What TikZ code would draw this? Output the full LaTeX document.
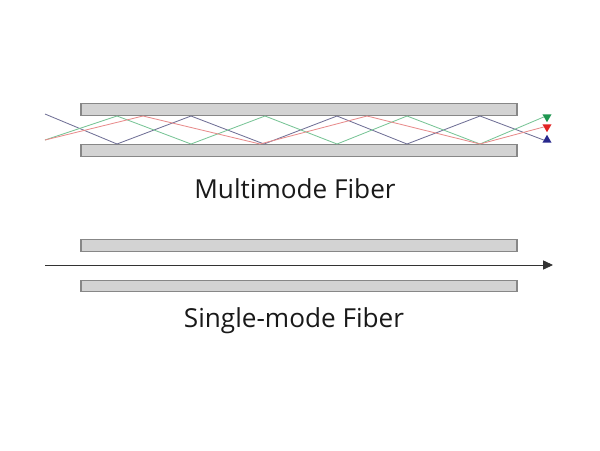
\documentclass[tikz,border=0pt]{standalone}
\usepackage{fontspec}
\setmainfont{Open Sans}
\usetikzlibrary{positioning, arrows.meta, shapes.geometric}
\definecolor{barfill}{RGB}{211,211,211}
\definecolor{bardraw}{RGB}{135,135,135}
\definecolor{rayblue}{RGB}{112,112,150}
\definecolor{raygreen}{RGB}{120,196,150}
\definecolor{rayred}{RGB}{232,140,140}
\definecolor{tipblue}{RGB}{40,40,140}
\definecolor{tipgreen}{RGB}{30,150,80}
\definecolor{tipred}{RGB}{225,35,35}

\begin{document}
\begin{tikzpicture}[x=0.025cm, y=-0.025cm,
    cladding/.style={rectangle, draw=bardraw, fill=barfill, line width=0.8pt,
                     minimum width=10.9cm, minimum height=0.28cm, inner sep=0pt},
    caption/.style={font=\fontsize{18.6}{22}\selectfont, text=black!90, anchor=base},
    ray/.style={line width=0.6pt},
    marker/.style={regular polygon, regular polygon sides=3, minimum size=0.26cm,
                   inner sep=0pt},
    beam/.style={-{Triangle[length=2.5mm, width=2.3mm]}, line width=0.6pt, color=black!80},
]
\useasboundingbox (0,0) rectangle (600,450);

% ─── Multimode: two cladding bars ────────────────────────────────
\node[cladding] (mmTop) at (299, 109.5) {};
\node[cladding] (mmBot) at (299, 150.5) {};

% ray end markers, just right of the bars
\node[marker, fill=tipgreen, shape border rotate=180] (tipG) at (547, 117) {};
\node[marker, fill=tipred, shape border rotate=180]   (tipR) at (547, 127) {};
\node[marker, fill=tipblue]                           (tipB) at (547, 140) {};

% zig-zag rays bouncing between the inner faces (y=116 / y=144)
\draw[ray, rayblue] (45,114) -- (117,144) -- (191,116) -- (264,144) -- (337,116)
    -- (407,144) -- (480,116) -- (tipB.west);
\draw[ray, raygreen] (45,140) -- (117,116) -- (191,144) -- (265,116) -- (337,144)
    -- (407,116) -- (480,144) -- (tipG.west);
\draw[ray, rayred] (45,140) -- (143,116) -- (260,144) -- (367,116) -- (480,144)
    -- (tipR.west);

\node[caption] (mmLabel) at (295, 198) {Multimode Fiber};

% ─── Single-mode: bars + one straight beam ───────────────────────
\node[cladding] (smTop) at (299, 245.5) {};
\node[cladding] (smBot) at (299, 286) {};

\coordinate (smIn)  at (45, 265);
\coordinate (smOut) at (553, 265);
\draw[beam] (smIn) -- (smOut);

\node[caption] (smLabel) at (294, 327) {Single-mode Fiber};

\end{tikzpicture}
\end{document}
